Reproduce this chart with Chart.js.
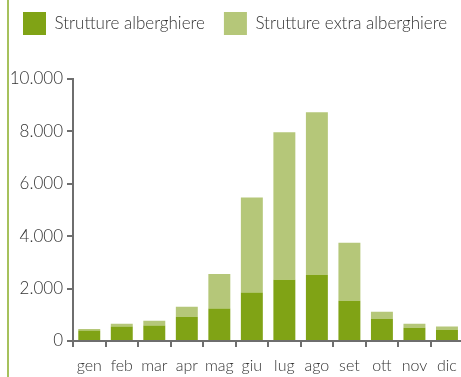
<!DOCTYPE html>
<html>
<head>
<meta charset="utf-8">
<script src="https://cdn.jsdelivr.net/npm/chart.js@4/dist/chart.umd.min.js"></script>
<style>
  html, body { margin: 0; padding: 0; background: #fff; overflow: hidden; }
  #wrap { position: relative; width: 461px; height: 377px; overflow: hidden; }
  #rule { position: absolute; left: 7px; top: 0; width: 2px; height: 377px; background: #a6c15c; }
  #c { position: absolute; left: 0; top: 0; }
</style>
</head>
<body>
<div id="wrap">
  <div id="rule"></div>
  <canvas id="c" width="466" height="377"></canvas>
</div>
<script>
// Presenze mensili per tipo di struttura
const months = ['gen', 'feb', 'mar', 'apr', 'mag', 'giu', 'lug', 'ago', 'set', 'ott', 'nov', 'dic'];
const alberghiere = [400, 550, 590, 930, 1240, 1850, 2340, 2530, 1540, 840, 510, 430];
const extraAlberghiere = [60, 110, 180, 380, 1320, 3630, 5630, 6200, 2210, 280, 150, 120];
const yTickValues = [0, 2000, 4000, 6000, 8000, 10000];
const yTickLabels = ['0', '2.000', '4.000', '6.000', '8.000', '10.000'];

const axisGrey = '#6e6e6e';
const textColor = '#333333';
const fontFamily = 'Lato, "Open Sans", sans-serif';
const legendGap = 19;

// Legend placement: one row, taller block, items nudged to the top-left corner
const legendPlacement = {
  id: 'legendPlacement',
  afterInit(chart) {
    const legend = chart.legend;
    const fit = legend.fit;
    legend.fit = function () {
      const realWidth = this.maxWidth;
      this.maxWidth = 1000;
      fit.call(this);
      this.maxWidth = realWidth;
      this.width = realWidth;
      this.height = 79;
    };
  },
  afterLayout(chart) {
    chart.legend.top = 12 - legendGap;
    chart.legend.left = 23 - legendGap;
    chart.legend.right = 1000;
  }
};

new Chart(document.getElementById('c'), {
  type: 'bar',
  data: {
    labels: months,
    datasets: [
      {
        label: 'Strutture alberghiere',
        data: alberghiere,
        backgroundColor: '#80a315',
        borderWidth: 0
      },
      {
        label: 'Strutture extra alberghiere',
        data: extraAlberghiere,
        backgroundColor: '#b5c779',
        borderWidth: 0
      }
    ]
  },
  options: {
    responsive: false,
    animation: false,
    devicePixelRatio: 1,
    layout: { padding: { top: 0, left: 1, right: 2, bottom: 0 } },
    datasets: {
      bar: { categoryPercentage: 1, barPercentage: 0.675 }
    },
    plugins: {
      tooltip: { enabled: false },
      legend: {
        position: 'top',
        align: 'start',
        labels: {
          boxWidth: 23,
          boxHeight: 23,
          padding: legendGap,
          color: textColor,
          font: { family: fontFamily, size: 17, weight: 300 }
        }
      }
    },
    scales: {
      x: {
        stacked: true,
        offset: true,
        afterFit(scale) { scale.height = 36; },
        grid: {
          display: true,
          offset: true,
          drawOnChartArea: false,
          drawTicks: true,
          tickLength: 6,
          color: axisGrey,
          lineWidth: 2
        },
        border: { display: true, color: axisGrey, width: 2 },
        ticks: {
          color: textColor,
          padding: 9,
          maxRotation: 0,
          font: { family: fontFamily, size: 16, weight: 300 }
        }
      },
      y: {
        stacked: true,
        min: 0,
        max: 10000,
        afterFit(scale) { scale.width = 72; },
        afterBuildTicks(scale) {
          scale.ticks = yTickValues.map(v => ({ value: v }));
        },
        grid: {
          display: true,
          drawOnChartArea: false,
          drawTicks: true,
          tickLength: 6,
          color: axisGrey,
          lineWidth: 2
        },
        border: { display: true, color: axisGrey, width: 2 },
        ticks: {
          color: textColor,
          padding: 4,
          font: { family: fontFamily, size: 17, weight: 300 },
          callback(value) {
            const i = yTickValues.indexOf(value);
            return i >= 0 ? yTickLabels[i] : '';
          }
        }
      }
    }
  },
  plugins: [legendPlacement]
});
</script>
</body>
</html>
